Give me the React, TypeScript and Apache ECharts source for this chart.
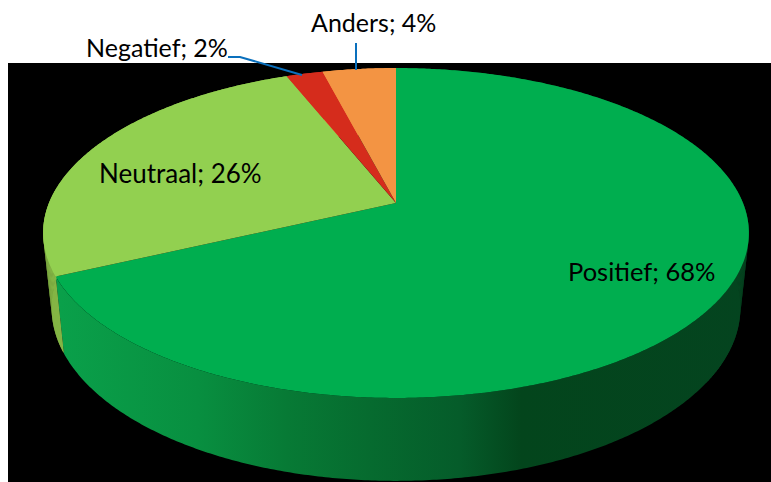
import React, { useEffect, useRef } from "react";
import * as echarts from "echarts";

const categories = ["Positief", "Neutraal", "Negatief", "Anders"];
const values = [68, 26, 2, 4];
const topColors = ["#00ae4f", "#92d050", "#d52c1c", "#f39443"];
const neutralWall = "#84b545";
const wallStops = [
  { offset: 0, color: "#0aa04a" },
  { offset: 0.2, color: "#088f40" },
  { offset: 0.33, color: "#077a35" },
  { offset: 0.45, color: "#066b2f" },
  { offset: 0.58, color: "#055c2a" },
  { offset: 0.67, color: "#03451c" },
  { offset: 1, color: "#04441f" },
];
const labelTexts = ["Positief; 68%", "Neutraal; 26%", "Negatief; 2%", "Anders; 4%"];
const labelAnchors = [
  [568, 284],
  [99, 186],
  [86, 59],
  [311, 34],
];
const labelSizes = [25.5, 26, 25, 25];

const CX = 396;
const CY = 203;
const K = 0.1818;
const AX = 347;
const AY = 159.5;

function project(deg: number): [number, number] {
  const t = (deg * Math.PI) / 180;
  const x = Math.sin(t);
  const y = Math.cos(t);
  const d = 1 + K * y;
  return [CX + (AX * x) / d, CY - (AY * y) / d];
}
function lower(p: [number, number]): [number, number] {
  return [CX + (p[0] - CX) * 0.976, p[1] + 73 + 0.051 * (p[1] - CY)];
}
function arcPoints(a0: number, a1: number, step = 0.5) {
  const pts: [number, number][] = [];
  const n = Math.max(2, Math.ceil((a1 - a0) / step));
  for (let i = 0; i <= n; i++) pts.push(project(a0 + ((a1 - a0) * i) / n));
  return pts;
}
const total = values.reduce((a, b) => a + b, 0);
function range(i: number): [number, number] {
  let s = 0;
  for (let j = 0; j < i; j++) s += values[j];
  return [(s / total) * 360, ((s + values[i]) / total) * 360];
}
// the silhouette of the drum runs straight from the top rim to the bottom rim near the two widest points
const silhouetteZones = [
  [85, 125],
  [245, 275],
];

export default function App() {
  const ref = useRef<HTMLDivElement>(null);
  useEffect(() => {
    const chart = echarts.init(ref.current!, undefined, { renderer: "svg" });
    const rows = categories.map((name, i) => ({ name, value: [values[i]] }));
    chart.setOption({
      animation: false,
      backgroundColor: "#ffffff",
      graphic: {
        elements: [
          { type: "rect", z: 0, silent: true, shape: { x: 8, y: 63, width: 763, height: 419 }, style: { fill: "#000000" } },
          { type: "polyline", z: 10, silent: true, shape: { points: [[228, 57], [240, 57], [302, 75]] }, style: { fill: "none", stroke: "#0a70bd", lineWidth: 2 } },
          { type: "line", z: 10, silent: true, shape: { x1: 356, y1: 43, x2: 356, y2: 70 }, style: { stroke: "#0a70bd", lineWidth: 2 } },
          ...labelTexts.map((text, i) => ({
            type: "text",
            z: 10,
            silent: true,
            x: labelAnchors[i][0],
            y: labelAnchors[i][1],
            style: { text, fill: "#000000", font: `${labelSizes[i]}px Lato`, textAlign: "left", verticalAlign: "bottom" },
          })),
        ],
      },
      series: [
        {
          type: "custom",
          name: "wand",
          coordinateSystem: "none",
          z: 2,
          silent: true,
          data: rows,
          renderItem: (params: any) => {
            const [a0, a1] = range(params.dataIndex);
            const top = arcPoints(a0, a1);
            const fill: any =
              params.dataIndex === 0
                ? new echarts.graphic.LinearGradient(60, 0, 749, 0, wallStops, true)
                : params.dataIndex === 1
                ? neutralWall
                : topColors[params.dataIndex];
            const children: any[] = [
              { type: "polygon", shape: { points: [...top, ...top.map(lower).reverse()] }, style: { fill } },
            ];
            silhouetteZones.forEach(([z0, z1]) => {
              const s0 = Math.max(a0, z0);
              const s1 = Math.min(a1, z1);
              if (s1 <= s0) return;
              const pts = arcPoints(s0, s1, 1);
              pts.slice(0, -1).forEach((p, i) => {
                children.push({
                  type: "polygon",
                  shape: { points: [p, pts[i + 1], lower(pts[i + 1]), lower(p)] },
                  style: { fill },
                });
              });
            });
            return { type: "group", children };
          },
        },
        {
          type: "custom",
          name: "blad",
          coordinateSystem: "none",
          z: 3,
          silent: true,
          data: rows,
          renderItem: (params: any) => {
            const [a0, a1] = range(params.dataIndex);
            return {
              type: "polygon",
              shape: { points: [[CX, CY], ...arcPoints(a0, a1)] },
              style: { fill: topColors[params.dataIndex] },
            };
          },
        },
      ],
    });
    return () => chart.dispose();
  }, []);
  return <div ref={ref} style={{ position: "absolute", left: 0, top: 0, width: 771, height: 482 }} />;
}
